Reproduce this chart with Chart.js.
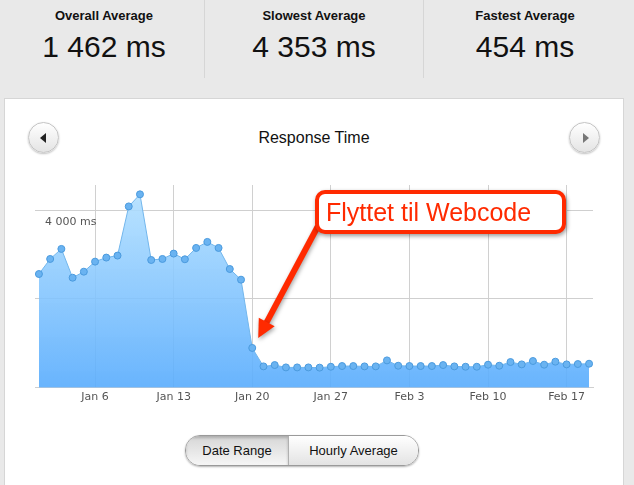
<!DOCTYPE html>
<html>
<head>
<meta charset="utf-8">
<script src="https://cdn.jsdelivr.net/npm/chart.js@4.4.1/dist/chart.umd.min.js"></script>
<style>
    body { margin: 0; width: 634px; height: 485px; overflow: hidden; background: #e9e9e9; font-family: "Liberation Sans", Helvetica, Arial, sans-serif; position: relative; }
    .stat { position: absolute; top: 0; text-align: center; color: #111; }
    .stat .label { position: absolute; top: 8px; width: 100%; font-size: 13px; font-weight: bold; }
    .stat .value { position: absolute; top: 30px; width: 100%; font-size: 30px; }
    .sep { position: absolute; top: 0; width: 1px; height: 78px; background: #d6d6d6; }
    .panel { position: absolute; left: 4px; top: 98px; width: 618px; height: 420px; background: #fff; border: 1px solid #d6d6d6; }
    .title { position: absolute; left: 0; top: 129px; width: 628px; text-align: center; font-size: 16px; color: #111; }
    .nav { position: absolute; top: 122px; width: 29px; height: 29px; border-radius: 50%; border: 1px solid #c4c4c4;
           background: linear-gradient(#ffffff, #e4e4e4); box-shadow: 0 1px 2px rgba(0,0,0,0.25); }
    .nav.prev { left: 28px; }
    .nav.next { left: 569px; }
    .nav::after { content: ""; position: absolute; top: 10px; width: 0; height: 0; border-top: 5px solid transparent; border-bottom: 5px solid transparent; }
    .nav.prev::after { left: 11px; border-right: 6px solid #222; }
    .nav.next::after { left: 13px; border-left: 6px solid #777; }
    .chart-box { position: absolute; left: 5px; top: 160px; width: 618px; height: 250px; }
    .callout { position: absolute; left: 315px; top: 190px; width: 236px; height: 36px; line-height: 36px; padding-left: 7px;
               border: 4px solid #ff2a00; border-radius: 10px; background: #fff; color: #ff2a00; font-size: 25px;
               box-shadow: 1px 2px 4px rgba(0,0,0,0.4); white-space: nowrap; }
    .toggle { position: absolute; left: 185px; top: 435px; width: 232px; height: 29px; border: 1px solid #9a9a9a; border-radius: 15px;
              overflow: hidden; box-shadow: 0 1px 2px rgba(0,0,0,0.3); font-size: 13px; color: #111; }
    .toggle span { position: absolute; top: 0; height: 29px; line-height: 29px; text-align: center; }
    .toggle .on { left: 0; width: 102px; border-right: 1px solid #b0b0b0; background: linear-gradient(#d6d6d6, #f6f6f6);
                  box-shadow: inset 0 2px 3px rgba(0,0,0,0.2); }
    .toggle .off { left: 103px; width: 129px; background: linear-gradient(#ffffff, #e3e3e3); }
</style>
</head>
<body>
<div class="stat" style="left:0;width:208px"><div class="label">Overall Average</div><div class="value">1 462 ms</div></div>
<div class="sep" style="left:204px"></div>
<div class="stat" style="left:208px;width:212px"><div class="label">Slowest Average</div><div class="value">4 353 ms</div></div>
<div class="sep" style="left:423px"></div>
<div class="stat" style="left:420px;width:210px"><div class="label">Fastest Average</div><div class="value">454 ms</div></div>

<div class="panel"></div>
<div class="nav prev"></div>
<div class="title">Response Time</div>
<div class="nav next"></div>
<div class="chart-box"><canvas id="response-chart"></canvas></div>
<div class="callout">Flyttet til Webcode</div>
<div class="toggle"><span class="on">Date Range</span><span class="off">Hourly Average</span></div>

<script>
// daily average response time (ms), Jan 1 .. Feb 19
const responseMs = [
    2561, 2900, 3126, 2478, 2614, 2840, 2931, 2976, 4083, 4355,
    2877, 2900, 3021, 2893, 3148, 3284, 3148, 2674, 2434, 897,
    482, 512, 459, 459, 459, 454, 474, 490, 490, 482,
    482, 617, 497, 490, 490, 490, 512, 482, 474, 474,
    520, 497, 580, 527, 603, 520, 588, 527, 535, 542
];
const tickDays = [5, 12, 19, 26, 33, 40, 47];
const tickLabels = ['Jan 6', 'Jan 13', 'Jan 20', 'Jan 27', 'Feb 3', 'Feb 10', 'Feb 17'];
const yTicks = [0, 2000, 4000];
const yLabelled = [4000];
const movedIndex = 19; // the day it moved

function fmtMs(v) {
    return String(v).replace(/\B(?=(\d{3})+(?!\d))/g, ' ') + ' ms';
}

// red arrow pointing at the drop
const arrowPlugin = {
    id: 'movedArrow',
    afterDatasetsDraw(chart) {
        const pt = chart.getDatasetMeta(0).data[movedIndex];
        if (!pt) return;
        const ctx = chart.ctx;
        const tipX = pt.x + 6, tipY = pt.y - 10;
        const tailX = 313, tailY = 66;
        const ang = Math.atan2(tipY - tailY, tipX - tailX);
        const headLen = 18, headHalf = 9;
        const baseX = tipX - Math.cos(ang) * headLen;
        const baseY = tipY - Math.sin(ang) * headLen;
        ctx.save();
        ctx.shadowColor = 'rgba(0,0,0,0.35)';
        ctx.shadowBlur = 4;
        ctx.shadowOffsetX = 1;
        ctx.shadowOffsetY = 2;
        ctx.strokeStyle = '#ff2a00';
        ctx.fillStyle = '#ff2a00';
        ctx.lineWidth = 6;
        ctx.beginPath();
        ctx.moveTo(tailX, tailY);
        ctx.lineTo(baseX + Math.cos(ang) * 2, baseY + Math.sin(ang) * 2);
        ctx.stroke();
        ctx.beginPath();
        ctx.moveTo(tipX, tipY);
        ctx.lineTo(baseX - Math.sin(ang) * headHalf, baseY + Math.cos(ang) * headHalf);
        ctx.lineTo(baseX + Math.sin(ang) * headHalf, baseY - Math.cos(ang) * headHalf);
        ctx.closePath();
        ctx.fill();
        ctx.restore();
    }
};

const ctx = document.getElementById('response-chart').getContext('2d');
const chart = new Chart(ctx, {
    type: 'line',
    data: {
        datasets: [{
            label: 'Response Time',
            data: responseMs.map((v, i) => ({ x: i, y: v })),
            fill: 'origin',
            backgroundColor: (c) => {
                const area = c.chart.chartArea;
                if (!area) return 'rgba(110,180,250,0.9)';
                const g = c.chart.ctx.createLinearGradient(0, area.top, 0, area.bottom);
                g.addColorStop(0, 'rgba(180,225,255,0.88)');
                g.addColorStop(1, 'rgba(88,172,253,0.9)');
                return g;
            },
            borderColor: '#72b6ec',
            borderWidth: 1,
            tension: 0,
            pointRadius: 3.5,
            pointBackgroundColor: '#6ab3f1',
            pointBorderColor: '#4a9ade',
            pointBorderWidth: 1
        }]
    },
    options: {
        responsive: true,
        maintainAspectRatio: false,
        animation: false,
        layout: { padding: { left: 10, right: 30, top: 25, bottom: 3 } },
        plugins: {
            legend: { display: false },
            tooltip: { enabled: false }
        },
        scales: {
            x: {
                type: 'linear',
                min: -0.35,
                max: 49.35,
                afterBuildTicks: (axis) => { axis.ticks = tickDays.map(v => ({ value: v })); },
                ticks: {
                    callback: (v) => tickLabels[tickDays.indexOf(v)] || '',
                    color: '#555',
                    font: { family: 'DejaVu Sans', size: 11 },
                    padding: 3,
                    maxRotation: 0
                },
                grid: { color: '#d0d0d0', drawTicks: false },
                border: { display: true, color: '#cfcfcf' }
            },
            y: {
                min: 0,
                max: 4565,
                afterBuildTicks: (axis) => { axis.ticks = yTicks.map(v => ({ value: v })); },
                ticks: {
                    mirror: true,
                    padding: 10,
                    labelOffset: 12,
                    callback: (v) => yLabelled.includes(v) ? fmtMs(v) : '',
                    color: '#555',
                    font: { family: 'DejaVu Sans', size: 11 }
                },
                grid: { color: '#cfcfcf', drawTicks: false },
                border: { display: false }
            }
        }
    },
    plugins: [arrowPlugin]
});
</script>
</body>
</html>
